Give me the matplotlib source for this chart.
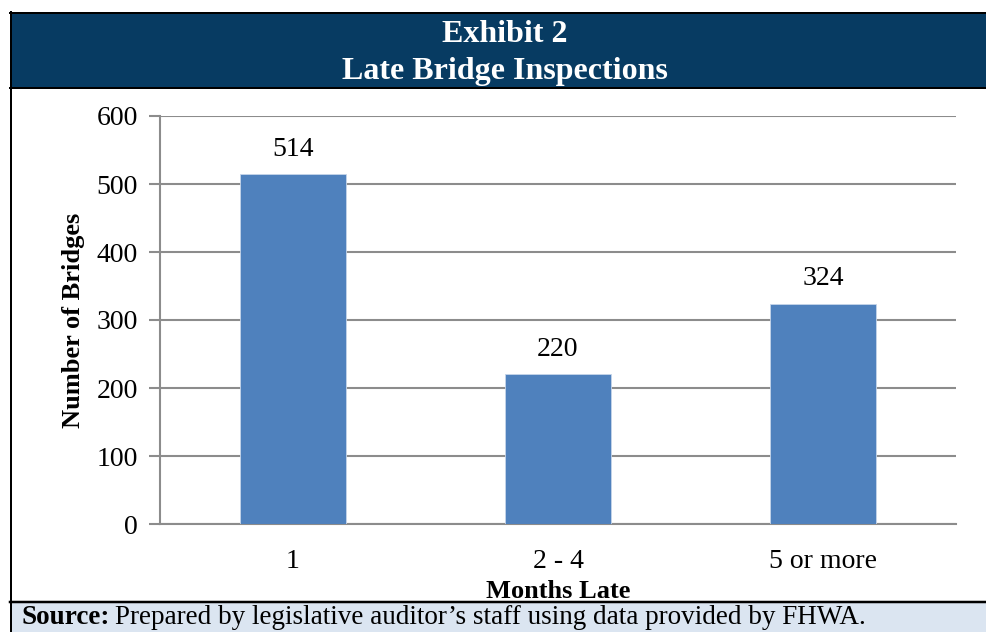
import matplotlib
matplotlib.use("Agg")
import matplotlib.pyplot as plt
from matplotlib.patches import Rectangle
from matplotlib.lines import Line2D

categories = ["1", "2 - 4", "5 or more"]
values = [514, 220, 324]
yticks = [0, 100, 200, 300, 400, 500, 600]

W, H = 987, 632
plt.rcParams['font.family'] = ['Liberation Serif', 'DejaVu Serif']
fig = plt.figure(figsize=(W / 100, H / 100), dpi=100)

def fx(x):
    return x / W

def fy(y):
    return 1 - y / H

# frame and bands
fig.add_artist(Rectangle((fx(10), fy(88)), fx(W - 10), 75 / H, transform=fig.transFigure,
                         facecolor="#073B62", edgecolor="none", zorder=0))
fig.add_artist(Rectangle((fx(10), fy(632)), fx(W - 10), 30 / H, transform=fig.transFigure,
                         facecolor="#DBE5F1", edgecolor="none", zorder=0))
for (x0, y0, x1, y1, lw) in [(10, 12.5, W, 12.5, 2.0), (11, 12, 11, H, 2.0),
                             (10, 88, W, 88, 2.0), (10, 601.5, W, 601.5, 2.5)]:
    fig.add_artist(Line2D([fx(x0), fx(x1)], [fy(y0), fy(y1)], transform=fig.transFigure,
                          color="black", lw=lw * 0.72, zorder=3))

fig.text(fx(505), fy(35), "Exhibit 2", ha="center", va="center", color="white",
         fontsize=23, fontweight="bold")
fig.text(fx(505), fy(71), "Late Bridge Inspections", ha="center", va="center", color="white",
         fontsize=23, fontweight="bold")

src = fig.text(fx(22), fy(618), "Source:", ha="left", va="center", fontsize=19.5, fontweight="bold")
fig.canvas.draw()
bb = src.get_window_extent()
fig.text(bb.x1 / W + 5 / W, fy(618),
         "Prepared by legislative auditor\u2019s staff using data provided by FHWA.",
         ha="left", va="center", fontsize=19.5)

FS = 20
# axes
ax = fig.add_axes([fx(160), fy(524), fx(956 - 160), (524 - 116) / H])
x = list(range(len(categories)))
bars = ax.bar(x, values, width=0.4, color="#4F81BD", edgecolor="#C6D5EA", linewidth=0.6, zorder=3)
ax.set_xlim(-0.5, len(categories) - 0.5)
ax.set_ylim(0, 600)
ax.set_yticks(yticks)
ax.set_yticklabels([str(t) for t in yticks], fontsize=FS)
ax.set_xticks(x)
ax.set_xticklabels(categories, fontsize=FS)
ax.tick_params(axis="x", length=0, pad=18)
ax.tick_params(axis="y", length=8, width=1.5, color="#8C8C8C", pad=8)
ax.grid(axis="y", color="#8C8C8C", lw=1.5, zorder=0)
for s in ["top", "right"]:
    ax.spines[s].set_visible(False)
for s in ["left", "bottom"]:
    ax.spines[s].set_color("#8C8C8C")
    ax.spines[s].set_linewidth(1.5)
for xi, v in zip(x, values):
    ax.text(xi, v + 18, str(v), ha="center", va="bottom", fontsize=FS)
ax.set_xlabel("Months Late", fontsize=19, fontweight="bold", labelpad=4)
ax.set_ylabel("Number of Bridges", fontsize=19, fontweight="bold")
ax.yaxis.set_label_coords((85 - 160) / (956 - 160), 0.5)

fig.savefig("out.png", dpi=100)
